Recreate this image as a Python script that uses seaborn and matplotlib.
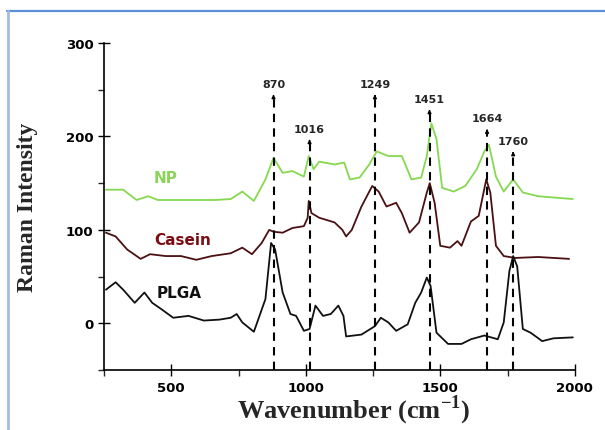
"""
Raman spectra of PLGA, casein and the nanoparticles (NP),
with the characteristic bands marked by dashed arrows.
"""

import numpy as np
import pandas as pd
import matplotlib.pyplot as plt
import seaborn as sns
from matplotlib.lines import Line2D

sns.set_theme(style="white")
plt.rcParams["font.family"] = ["DejaVu Sans"]

# spectra (wavenumber, intensity)
np_wn = [257, 321, 371, 414, 450, 579, 664, 721, 764, 807, 850, 880, 914, 950,
         993, 1011, 1029, 1050, 1107, 1143, 1164, 1200, 1236, 1264, 1307, 1357,
         1393, 1429, 1450, 1467, 1486, 1507, 1550, 1593, 1636, 1664, 1681, 1707,
         1736, 1771, 1807, 1864, 1993]
np_int = [143, 143, 132, 136, 132, 132, 132, 133, 141, 131, 154, 177, 161, 163,
          157, 179, 165, 173, 170, 172, 154, 156, 170, 184, 179, 179,
          154, 156, 179, 214, 197, 145, 141, 147, 165, 184, 191, 157,
          141, 154, 140, 136, 133]

casein_wn = [257, 293, 336, 386, 421, 479, 536, 593, 650, 721, 764, 800, 836, 864,
             881, 914, 950, 993, 1007, 1011, 1021, 1050, 1107, 1136, 1150, 1171,
             1207, 1247, 1271, 1300, 1336, 1357, 1386, 1421, 1450, 1461, 1479,
             1500, 1536, 1564, 1579, 1614, 1643, 1671, 1686, 1707, 1736, 1779,
             1864, 1979]
casein_int = [97, 93, 79, 69, 74, 72, 72, 68, 72, 75, 81, 74, 86, 100,
              98, 97, 102, 104, 113, 131, 118, 113, 108, 100, 93, 100,
              125, 147, 141, 125, 129, 118, 97, 108, 140, 150, 129,
              83, 81, 88, 83, 109, 115, 154, 140, 83, 72, 70,
              71, 69]

plga_wn = [257, 293, 321, 364, 400, 429, 464, 507, 564, 621, 679, 721, 743, 764,
           807, 850, 871, 886, 914, 943, 964, 993, 1014, 1036, 1064, 1093, 1121,
           1140, 1150, 1207, 1257, 1279, 1307, 1336, 1379, 1407, 1429, 1450,
           1464, 1486, 1529, 1579, 1614, 1664, 1714, 1736, 1757, 1771, 1786,
           1807, 1836, 1879, 1921, 1993]
plga_int = [36, 44, 36, 22, 33, 22, 15, 6, 8, 3, 4, 6, 10, 1,
            -9, 26, 86, 79, 33, 10, 8, -8, -6, 19, 8, 10, 19,
            8, -14, -12, -3, 6, 1, -8, -1, 22, 33, 49,
            40, -10, -22, -22, -17, -13, -17, 1, 56, 72, 61,
            -6, -10, -19, -16, -15]

# marked bands: label text, drawn position, arrow tip height
band_labels = ["870", "1016", "1249", "1451", "1664", "1760"]
band_pos = [880, 1014, 1257, 1460, 1674, 1771]
band_top = [245, 197, 245, 229, 208, 184]

df = pd.concat([
    pd.DataFrame({"wn": np_wn, "intensity": np_int, "sample": "NP"}),
    pd.DataFrame({"wn": casein_wn, "intensity": casein_int, "sample": "Casein"}),
    pd.DataFrame({"wn": plga_wn, "intensity": plga_int, "sample": "PLGA"}),
])
colors = {"NP": "#86d850", "Casein": "#4a1012", "PLGA": "#111111"}

fig = plt.figure(figsize=(6.05, 4.31), dpi=100)
ax = fig.add_axes([0.172, 0.139, 0.778, 0.759])

sns.lineplot(data=df, x="wn", y="intensity", hue="sample", palette=colors,
             linewidth=1.3, legend=False, ax=ax, sort=False, estimator=None)

for lab, x, top in zip(band_labels, band_pos, band_top):
    ax.plot([x, x], [-50, top - 4], ls=(0, (4, 3)), color="black", lw=1.5)
    ax.annotate("", xy=(x, top), xytext=(x, top - 5),
                arrowprops=dict(arrowstyle="-|>", color="black", lw=1,
                                mutation_scale=5))
    ax.text(x, top + 6, lab, ha="center", va="bottom", fontsize=8,
            fontweight="bold")

ax.text(479, 156, "NP", color="#8ad45a", fontsize=11, fontweight="bold",
        ha="center", va="center")
ax.text(543, 90, "Casein", color="#7a0e14", fontsize=11, fontweight="bold",
        ha="center", va="center")
ax.text(529, 33, "PLGA", color="#111111", fontsize=11, fontweight="bold",
        ha="center", va="center")

ax.set_xlim(250, 2000)
ax.set_ylim(-50, 300)
ax.set_xticks([500, 1000, 1500, 2000])
ax.set_xticks([250, 750, 1250, 1750], minor=True)
ax.set_yticks([0, 100, 200, 300])
ax.set_yticks([-50, 50, 150, 250], minor=True)
ax.tick_params(which="major", direction="inout", length=8, width=1,
               labelsize=9.5, colors="black", bottom=True, left=True)
ax.tick_params(which="minor", direction="out", length=4, width=1,
               bottom=True, left=True)
for lbl in ax.get_xticklabels() + ax.get_yticklabels():
    lbl.set_fontweight("bold")

for side in ["top", "right"]:
    ax.spines[side].set_visible(False)
for side in ["left", "bottom"]:
    ax.spines[side].set_color("black")
    ax.spines[side].set_linewidth(1.2)

ax.set_xlabel("Wavenumber (cm$^{\\mathregular{-1}}$)", family="Liberation Serif",
              fontweight="bold", fontsize=19)
ax.set_ylabel("Raman Intensity", family="Liberation Serif", fontweight="bold",
              fontsize=17)
ax.xaxis.set_label_coords(0.53, -0.07)
ax.yaxis.set_label_coords(-0.14, 0.5)

# light blue frame along the top and left edge
fig.add_artist(Line2D([0.012, 1.0], [0.972, 0.972], color="#5b8fd8", lw=1.6))
fig.add_artist(Line2D([0.014, 0.014], [0.0, 0.972], color="#a3bce3", lw=2))

plt.savefig("out.png", dpi=100)
plt.close()
